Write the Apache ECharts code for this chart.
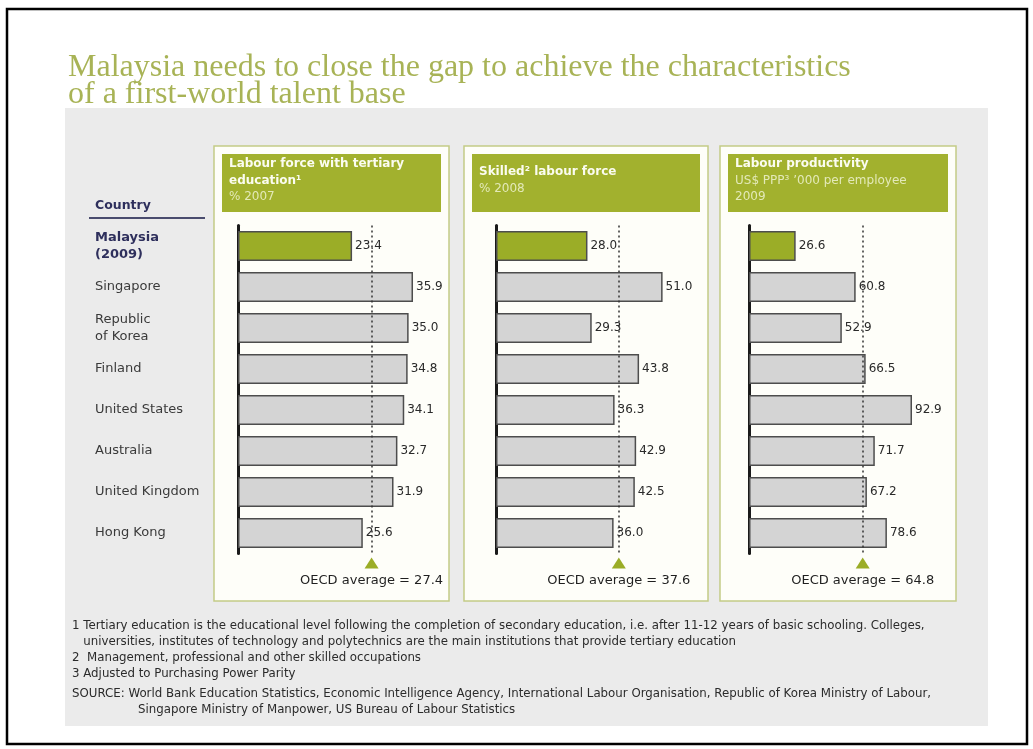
<!DOCTYPE html>
<html>
<head>
<meta charset="utf-8">
<script src="https://cdn.jsdelivr.net/npm/echarts@6/dist/echarts.min.js"></script>
<style>
html,body{margin:0;padding:0;background:#fff;}
#chart{width:1033px;height:749px;}
</style>
</head>
<body>
<div id="chart"></div>
<script>
// ---- data ----
const countries = ['Malaysia\n(2009)', 'Singapore', 'Republic\nof Korea', 'Finland', 'United States', 'Australia', 'United Kingdom', 'Hong Kong'];
const tertiary = [23.4, 35.9, 35.0, 34.8, 34.1, 32.7, 31.9, 25.6];
const skilled = [28.0, 51.0, 29.3, 43.8, 36.3, 42.9, 42.5, 36.0];
const productivity = [26.6, 60.8, 52.9, 66.5, 92.9, 71.7, 67.2, 78.6];
const oecdAvg = [27.4, 37.6, 64.8];
const axisMax = [40, 60, 110];
const panelTitles = [
  ['Labour force with tertiary', 'education\u00b9', '% 2007'],
  ['Skilled\u00b2 labour force', '% 2008'],
  ['Labour productivity', 'US$ PPP\u00b3 \u2019000 per employee', '2009']
];
const titleLines = ['Malaysia needs to close the gap to achieve the characteristics', 'of a first-world talent base'];
const footnotes = [
  '1 Tertiary education is the educational level following the completion of secondary education, i.e. after 11-12 years of basic schooling. Colleges,',
  '   universities, institutes of technology and polytechnics are the main institutions that provide tertiary education',
  '2  Management, professional and other skilled occupations',
  '3 Adjusted to Purchasing Power Parity'
];
const sourceLines = ['SOURCE: World Bank Education Statistics, Economic Intelligence Agency, International Labour Organisation, Republic of Korea Ministry of Labour,',
  'Singapore Ministry of Manpower, US Bureau of Labour Statistics'];

// ---- layout ----
const SANS = '"DejaVu Sans", "Liberation Sans", Arial, sans-serif';
const GREEN = '#a2b12e';
const BARGREEN = '#9bad27';
const grids = [
  {left: 238, width: 195},
  {left: 496, width: 196},
  {left: 749, width: 193}
];
const panels = [
  {x: 214, w: 235},
  {x: 464, w: 244},
  {x: 720, w: 236}
];
const gridTop = 225.5, gridH = 328;
const seriesData = [tertiary, skilled, productivity];

const graphic = [];
graphic.push({type:'rect', z:-10, shape:{x:7, y:9, width:1020, height:735}, style:{fill:'#fff', stroke:'#000', lineWidth:2.5}});
graphic.push({type:'rect', z:-9, shape:{x:65, y:108, width:923, height:618}, style:{fill:'#ebebeb'}});
titleLines.forEach((t, i) => {
  graphic.push({type:'text', z:5, x:68, y:52 + i*27, style:{text:t, fill:'#a8b356', font:'32px "Liberation Serif", serif'}});
});
panels.forEach((p, i) => {
  graphic.push({type:'rect', z:-8, shape:{x:p.x, y:146, width:p.w, height:455}, style:{fill:'#fefef9', stroke:'#c4cc86', lineWidth:1.5}});
  graphic.push({type:'rect', z:-7, shape:{x:p.x+8, y:154, width:p.w-16, height:58}, style:{fill:GREEN}});
  const lines = panelTitles[i];
  const nTitle = i === 0 ? 2 : 1;
  const y0 = lines.length === 2 ? 166 : 158;
  lines.forEach((l, j) => {
    graphic.push({type:'text', z:5, x:p.x+15, y:y0 + j*16.5, style:{text:l, fill: j < nTitle ? '#fbfcf0' : '#e3e9b8', font:(j < nTitle ? 'bold ' : '') + '12px ' + SANS}});
  });
});
graphic.push({type:'text', z:5, x:95, y:199, style:{text:'Country', fill:'#2e2f5c', font:'bold 12.5px ' + SANS}});
graphic.push({type:'line', z:5, shape:{x1:89, y1:218, x2:205, y2:218}, style:{stroke:'#4a4c6e', lineWidth:2}});
footnotes.forEach((t, i) => {
  graphic.push({type:'text', z:5, x:72, y:620 + i*16, style:{text:t, fill:'#2b2b2b', font:'11.8px ' + SANS}});
});
sourceLines.forEach((t, i) => {
  graphic.push({type:'text', z:5, x: i === 0 ? 72 : 138, y:688 + i*16, style:{text:t, fill:'#2b2b2b', font:'11.8px ' + SANS}});
});

const option = {
  animation: false,
  backgroundColor: '#fff',
  graphic: graphic,
  grid: grids.map(g => ({left: g.left, width: g.width, top: gridTop, height: gridH, containLabel: false})),
  xAxis: grids.map((g, i) => ({
    type: 'value', gridIndex: i, min: 0, max: axisMax[i],
    show: false
  })),
  yAxis: grids.map((g, i) => ({
    type: 'category', gridIndex: i, data: countries, inverse: true,
    axisLine: {show: true, lineStyle: {color: '#1a1a1a', width: 3}},
    axisTick: {show: false},
    splitLine: {show: false},
    axisLabel: i === 0 ? {
      show: true, align: 'left', margin: 143,
      fontFamily: SANS, fontSize: 13, color: '#3a3a3a', lineHeight: 17,
      formatter: (v, idx) => idx === 0 ? v.split('\n').map(s => '{b|' + s + '}').join('\n') : v,
      rich: {b: {fontWeight: 'bold', color: '#2e2f5c', fontSize: 13, lineHeight: 17, fontFamily: SANS}}
    } : {show: false}
  })),
  series: seriesData.map((d, i) => ({
    type: 'bar', xAxisIndex: i, yAxisIndex: i,
    barWidth: 30,
    data: d.map((v, k) => ({value: v, itemStyle: {color: k === 0 ? BARGREEN : '#d4d4d4'}})),
    itemStyle: {borderColor: '#4d4d4d', borderWidth: 1.5},
    label: {show: true, position: 'right', distance: 3, color: '#2a2a2a', fontSize: 12,
      fontFamily: SANS, formatter: p => p.value.toFixed(1)},
    markLine: {
      silent: true, symbol: 'none', label: {show: false},
      lineStyle: {color: '#333', type: [2, 3], width: 1.5},
      data: [{xAxis: oecdAvg[i]}]
    },
    markPoint: {
      silent: true,
      symbol: 'triangle', symbolSize: [14, 11], symbolOffset: [0, 30],
      itemStyle: {color: BARGREEN},
      label: {show: true, position: 'bottom', distance: 6, color: '#1f1f1f', fontSize: 13,
        fontFamily: SANS,
        formatter: p => 'OECD average = ' + p.value.toFixed(1)},
      data: [{coord: [oecdAvg[i], countries[countries.length - 1]], value: oecdAvg[i]}]
    }
  }))
};
const chart = echarts.init(document.getElementById('chart'), null, {renderer: 'canvas'});
chart.setOption(option);
</script>
</body>
</html>
